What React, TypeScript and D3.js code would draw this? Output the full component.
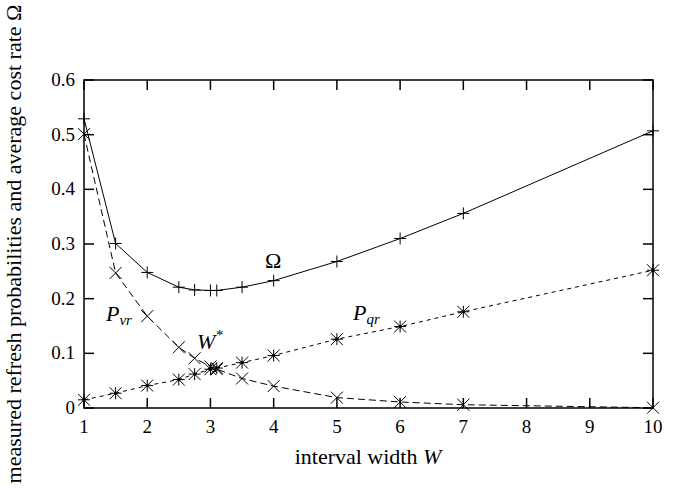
import React from "react";
import * as d3 from "d3";

const W_OMEGA = [1, 1.5, 2, 2.5, 2.75, 3, 3.1, 3.5, 4, 5, 6, 7, 10];
const OMEGA = [0.529, 0.301, 0.248, 0.221, 0.216, 0.215, 0.215, 0.221, 0.233, 0.268, 0.31, 0.356, 0.507];
const W_PVR = [1, 1.5, 2, 2.5, 2.75, 3, 3.1, 3.5, 4, 5, 6, 7, 10];
const PVR = [0.501, 0.247, 0.168, 0.111, 0.091, 0.076, 0.071, 0.054, 0.04, 0.019, 0.011, 0.006, 0.0005];
const W_PQR = [1, 1.5, 2, 2.5, 2.75, 3, 3.1, 3.5, 4, 5, 6, 7, 10];
const PQR = [0.015, 0.027, 0.041, 0.052, 0.062, 0.071, 0.073, 0.083, 0.096, 0.126, 0.149, 0.176, 0.252];
const X_TICKS = [1, 2, 3, 4, 5, 6, 7, 8, 9, 10];
const Y_TICKS = [0, 0.1, 0.2, 0.3, 0.4, 0.5, 0.6];

const FONT = "'Liberation Serif', 'Times New Roman', serif";

export default function App() {
  const left = 84, right = 653, top = 80, bottom = 408;
  const x = d3.scaleLinear().domain([1, 10]).range([left, right]);
  const y = d3.scaleLinear().domain([0, 0.6]).range([bottom, top]);
  const line = d3.line<[number, number]>().x(d => x(d[0])).y(d => y(d[1]));
  const om = W_OMEGA.map((w, i) => [w, OMEGA[i]] as [number, number]);
  const pv = W_PVR.map((w, i) => [w, PVR[i]] as [number, number]);
  const pq = W_PQR.map((w, i) => [w, PQR[i]] as [number, number]);
  const s = 6;
  const plus = (cx: number, cy: number) => `M${cx - s},${cy}H${cx + s}M${cx},${cy - s}V${cy + s}`;
  const cross = (cx: number, cy: number) => `M${cx - s},${cy - s}L${cx + s},${cy + s}M${cx - s},${cy + s}L${cx + s},${cy - s}`;
  const tl = 10;
  return (
    <svg width={676} height={488} style={{ position: "absolute", left: 0, top: 0, background: "#fff" }}>
      <rect x={0} y={0} width={676} height={488} fill="#fff" />
      <g stroke="#000" strokeWidth={1} fill="none">
        {X_TICKS.map(t => (
          <g key={"xt" + t}>
            <line x1={x(t)} x2={x(t)} y1={bottom} y2={bottom - tl} strokeWidth={1.5} />
            <line x1={x(t)} x2={x(t)} y1={top} y2={top + tl} strokeWidth={1.5} />
          </g>
        ))}
        {Y_TICKS.map(t => (
          <g key={"yt" + t}>
            <line x1={left} x2={left + tl} y1={y(t)} y2={y(t)} strokeWidth={1.5} />
            <line x1={right} x2={right - tl} y1={y(t)} y2={y(t)} strokeWidth={1.5} />
          </g>
        ))}
        <rect x={left} y={top} width={right - left} height={bottom - top} strokeWidth={1.5} />
        <path d={line(om) || ""} />
        <path d={line(pv) || ""} strokeDasharray="7,4" />
        <path d={line(pq) || ""} strokeDasharray="4,4" />
        {om.map((d, i) => <path key={"o" + i} d={plus(x(d[0]), y(d[1]))} />)}
        {pv.map((d, i) => <path key={"v" + i} d={cross(x(d[0]), y(d[1]))} />)}
        {pq.map((d, i) => <path key={"q" + i} d={plus(x(d[0]), y(d[1])) + cross(x(d[0]), y(d[1]))} />)}
        {pq.map((d, i) => <circle key={"qd" + i} cx={x(d[0])} cy={y(d[1])} r={1.2} fill="#000" />)}
      </g>
      <g style={{ fontFamily: FONT }} fontSize={19} fill="#000">
        {X_TICKS.map(t => (
          <text key={"xl" + t} x={x(t)} y={433} textAnchor="middle">{t}</text>
        ))}
        {Y_TICKS.map(t => (
          <text key={"yl" + t} x={left - 9} y={y(t) + 6} textAnchor="end">{t === 0 ? "0" : t.toFixed(1)}</text>
        ))}
      </g>
      <g style={{ fontFamily: FONT }} fontSize={22} fill="#000">
        <text x={368} y={464} textAnchor="middle">interval width <tspan fontStyle="italic">W</tspan></text>
        <text transform={`translate(21,${(top + bottom) / 2}) rotate(-90)`} textAnchor="middle">measured refresh probabilities and average cost rate Ω</text>
        <text x={265} y={268}>Ω</text>
        <text x={106} y={321} fontStyle="italic">P<tspan fontSize={15} dy={4}>vr</tspan></text>
        <text x={197} y={349} fontStyle="italic">W<tspan fontSize={15} dy={-9}>*</tspan></text>
        <text x={353} y={320} fontStyle="italic">P<tspan fontSize={15} dy={4}>qr</tspan></text>
      </g>
    </svg>
  );
}
